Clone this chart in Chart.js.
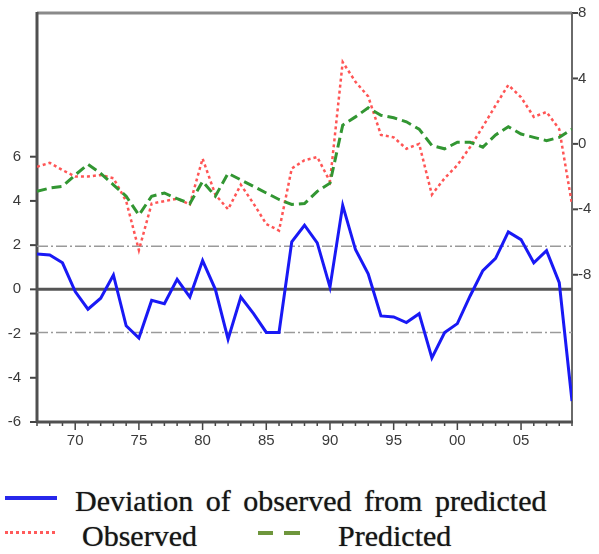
<!DOCTYPE html>
<html>
<head>
<meta charset="utf-8">
<script src="https://cdn.jsdelivr.net/npm/chart.js@4.4.1/dist/chart.umd.min.js"></script>
<style>
  html, body { margin: 0; padding: 0; background: #fff; width: 599px; height: 554px; overflow: hidden; }
  #wrap { position: absolute; left: 0; top: 0; width: 599px; height: 460px; }
  .leg { position: absolute; font-family: "Liberation Serif", "Times New Roman", serif; font-size: 30px; color: #151515; white-space: nowrap; line-height: 1; text-shadow: 0 0 1px rgba(0,0,0,0.6); }
  .sw { position: absolute; height: 0; }
</style>
</head>
<body>
<div id="wrap"><canvas id="c" width="599" height="460"></canvas></div>
<div class="sw" style="left:5px; top:496px; width:52px; border-top:4px solid rgb(40,40,235);"></div>
<div class="leg" style="left:75px; top:486px; word-spacing:5px;">Deviation of observed from predicted</div>
<div class="sw" style="left:5px; top:531px; width:50px; border-top:3px dotted rgb(255,90,90);"></div>
<div class="leg" style="left:82px; top:521px;">Observed</div>
<div class="sw" style="left:258px; top:531px; width:15px; border-top:4px solid rgb(110,150,60);"></div>
<div class="sw" style="left:284px; top:531px; width:16px; border-top:4px solid rgb(110,150,60);"></div>
<div class="leg" style="left:338px; top:521px;">Predicted</div>
<script>
const years = [1967,1968,1969,1970,1971,1972,1973,1974,1975,1976,1977,1978,1979,1980,1981,1982,1983,1984,1985,1986,1987,1988,1989,1990,1991,1992,1993,1994,1995,1996,1997,1998,1999,2000,2001,2002,2003,2004,2005,2006,2007,2008,2009];
const deviation = [1.6,1.55,1.2,-0.1,-0.9,-0.4,0.65,-1.65,-2.2,-0.5,-0.65,0.45,-0.35,1.3,0.0,-2.25,-0.35,-1.1,-1.95,-1.95,2.15,2.9,2.1,0.1,3.8,1.8,0.7,-1.2,-1.25,-1.5,-1.1,-3.1,-1.95,-1.55,-0.3,0.85,1.4,2.6,2.25,1.2,1.75,0.3,-5.05];
const observed = [-1.4,-1.16,-1.6,-2.0,-2.0,-1.9,-2.1,-3.5,-6.5,-3.65,-3.5,-3.35,-3.7,-0.9,-3.1,-4.0,-2.5,-3.65,-4.9,-5.3,-1.5,-1.0,-0.8,-2.3,5.0,3.8,2.9,0.55,0.4,-0.3,0.0,-3.1,-2.1,-1.3,-0.2,1.05,2.35,3.6,2.85,1.65,1.95,0.9,-3.7];
const predicted = [-2.9,-2.7,-2.6,-1.9,-1.25,-1.8,-2.5,-3.2,-4.35,-3.2,-3.0,-3.35,-3.65,-2.3,-3.2,-1.8,-2.2,-2.6,-3.0,-3.4,-3.7,-3.65,-2.9,-2.4,1.15,1.65,2.2,1.75,1.6,1.35,0.9,-0.1,-0.3,0.1,0.1,-0.2,0.55,1.05,0.6,0.4,0.2,0.4,0.9];
const stdErr = 1.95;
const leftTicks = [-6,-4,-2,0,2,4,6];
const rightTicks = [-8,-4,0,4,8];
const xLabelYears = [1970,1975,1980,1985,1990,1995,2000,2005];

const pts = arr => arr.map((v,i) => ({x: years[i], y: v}));
const flat = v => [{x: years[0], y: v}, {x: years[years.length-1], y: v}];

const framePlugin = {
  id: 'frame',
  beforeDatasetsDraw(chart) {
    const {ctx, chartArea: a, scales} = chart;
    ctx.save();
    ctx.strokeStyle = '#444';
    ctx.lineWidth = 2;
    leftTicks.forEach(v => {
      const y = scales.y.getPixelForValue(v);
      ctx.beginPath(); ctx.moveTo(a.left - 7, y); ctx.lineTo(a.left, y); ctx.stroke();
    });
    rightTicks.forEach(v => {
      const y = scales.y1.getPixelForValue(v);
      ctx.beginPath(); ctx.moveTo(a.right, y); ctx.lineTo(a.right + 6, y); ctx.stroke();
    });
    ctx.lineWidth = 1.5;
    years.forEach(yr => {
      const x = scales.x.getPixelForValue(yr);
      const len = yr % 5 === 0 ? 8 : 4;
      ctx.beginPath(); ctx.moveTo(x, a.bottom); ctx.lineTo(x, a.bottom + len); ctx.stroke();
    });
    ctx.lineWidth = 3; ctx.strokeStyle = '#8a8a8a';
    ctx.beginPath(); ctx.moveTo(a.left, a.top); ctx.lineTo(a.right, a.top); ctx.stroke();
    ctx.lineWidth = 2; ctx.strokeStyle = '#6a6a6a';
    ctx.beginPath(); ctx.moveTo(a.right, a.top); ctx.lineTo(a.right, a.bottom); ctx.stroke();
    ctx.lineWidth = 3; ctx.strokeStyle = '#505050';
    ctx.beginPath(); ctx.moveTo(a.left, a.top - 1); ctx.lineTo(a.left, a.bottom); ctx.stroke();
    ctx.beginPath(); ctx.moveTo(a.left, a.bottom); ctx.lineTo(a.right + 1, a.bottom); ctx.stroke();
    ctx.restore();
  }
};

const tickFont = {family: '"Liberation Sans", Arial, sans-serif', size: 15};
const noPadV = s => { s.paddingTop = 0; s.paddingBottom = 0; };

new Chart(document.getElementById('c'), {
  type: 'line',
  data: {
    datasets: [
      {label: 'Deviation of observed from predicted', data: pts(deviation), yAxisID: 'y', borderColor: 'rgb(25,25,245)', borderWidth: 3, order: 1},
      {label: 'Predicted', data: pts(predicted), yAxisID: 'y1', borderColor: 'rgb(50,150,50)', borderWidth: 3, borderDash: [10,5], order: 2},
      {label: 'Observed', data: pts(observed), yAxisID: 'y1', borderColor: 'rgb(255,85,85)', borderWidth: 2.5, borderDash: [3,3], order: 3},
      {label: 'zero', data: flat(0), yAxisID: 'y', borderColor: '#555', borderWidth: 3, order: 5},
      {label: '+se', data: flat(stdErr), yAxisID: 'y', borderColor: '#9a9a9a', borderWidth: 1.5, borderDash: [11,3,2,3], order: 4},
      {label: '-se', data: flat(-stdErr), yAxisID: 'y', borderColor: '#9a9a9a', borderWidth: 1.5, borderDash: [11,3,2,3], order: 4}
    ]
  },
  options: {
    responsive: false,
    animation: false,
    events: [],
    layout: {padding: {top: 13, left: 0, right: 0, bottom: 0}},
    elements: {line: {tension: 0, fill: false}, point: {radius: 0}},
    plugins: {legend: {display: false}, tooltip: {enabled: false}},
    scales: {
      x: {
        type: 'linear', min: 1967, max: 2009,
        afterBuildTicks: s => { s.ticks = xLabelYears.map(v => ({value: v})); },
        afterFit: s => { s.height = 38; s.paddingLeft = 0; s.paddingRight = 0; },
        grid: {drawOnChartArea: false, drawTicks: false},
        border: {display: false},
        ticks: {autoSkip: false, maxRotation: 0, padding: 10, color: '#3a3a3a', font: tickFont,
          callback: v => String(v % 100).padStart(2, '0')}
      },
      y: {
        position: 'left', min: -6, max: 12.5,
        afterBuildTicks: s => { s.ticks = leftTicks.map(v => ({value: v})); },
        afterFit: s => { s.width = 37; noPadV(s); },
        grid: {drawOnChartArea: false, drawTicks: false},
        border: {display: false},
        ticks: {padding: 16, color: '#3a3a3a', font: tickFont}
      },
      y1: {
        position: 'right', min: -17, max: 8,
        afterBuildTicks: s => { s.ticks = rightTicks.map(v => ({value: v})); },
        afterFit: s => { s.width = 27; noPadV(s); },
        grid: {drawOnChartArea: false, drawTicks: false},
        border: {display: false},
        ticks: {padding: 6, color: '#3a3a3a', font: tickFont}
      }
    }
  },
  plugins: [framePlugin]
});
</script>
</body>
</html>
